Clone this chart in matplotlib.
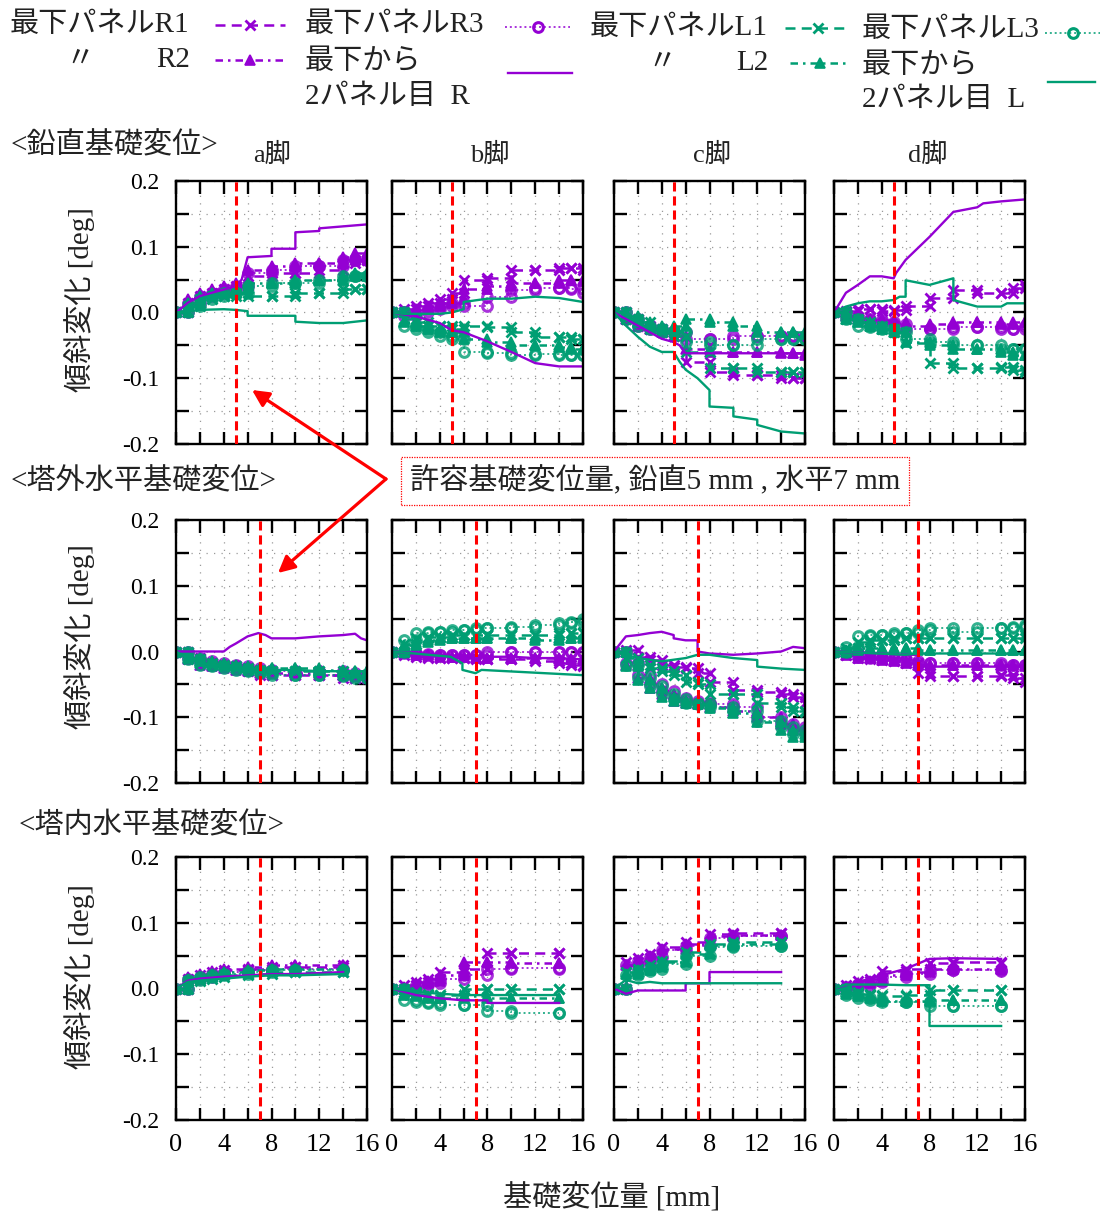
import numpy as np
import matplotlib
matplotlib.use('Agg')
import matplotlib.pyplot as plt
from matplotlib.lines import Line2D

FAM = ['Liberation Serif', 'Noto Sans CJK JP']
plt.rcParams['font.family'] = FAM

# ---------------- data ----------------
LEGS = ['a脚', 'b脚', 'c脚', 'd脚']
ROW_TITLES = ['<鉛直基礎変位>', '<塔外水平基礎変位>', '<塔内水平基礎変位>']
LIMITS = [5, 7, 7]          # allowable displacement (mm) per row

# x grids (mm) of measured steps
X_V = [0, 1, 2, 3, 4, 5, 6, 8, 10, 12, 14, 15, 16]
X_O = [0, 1, 2, 3, 4, 5, 6, 7, 8, 10, 12, 14, 15, 16]
X_I = [0, 1, 2, 3, 4, 6, 8, 10, 14]

# Row 1: vertical displacement  (panels a, b, c, d)
V_R1 = [[0, .015, .025, .03, .035, .04, .055, .06, .06, .065, .075, .08, .08],
        [0, .005, .01, .015, .02, .03, .05, .052, .065, .065, .067, .068, .065],
        [0, -.01, -.02, -.025, -.03, -.035, -.075, -.09, -.095, -.095, -.1, -.1, -.1],
        [0, .003, .005, .005, .003, .004, .01, .022, .034, .03, .03, .037, .042]]
V_R2 = [[0, .02, .03, .035, .04, .045, .065, .07, .075, .075, .085, .09, .085],
        [0, 0, .005, .01, .015, .02, .035, .04, .045, .045, .05, .05, .048],
        [0, -.01, -.02, -.025, -.03, -.035, -.055, -.06, -.06, -.06, -.062, -.062, -.065],
        [0, -.005, -.01, -.01, -.012, -.015, -.02, -.018, -.015, -.015, -.018, -.015, -.015]]
V_R3 = [[0, .015, .025, .03, .035, .04, .06, .065, .07, .07, .08, .08, .08],
        [0, -.005, 0, .005, .01, .015, .01, .024, .034, .037, .037, .035, .03],
        [0, -.01, -.02, -.025, -.03, -.03, -.04, -.04, -.035, -.035, -.035, -.035, -.035],
        [0, -.005, -.01, -.012, -.015, -.018, -.025, -.025, -.022, -.022, -.025, -.025, -.02]]
V_L1 = [[0, .01, .02, .025, .025, .03, .025, .025, .03, .03, .035, .035, .035],
        [0, -.01, -.015, -.02, -.02, -.025, -.02, -.022, -.03, -.037, -.037, -.04, -.04],
        [0, -.01, -.015, -.025, -.03, -.035, -.06, -.085, -.085, -.09, -.09, -.09, -.09],
        [0, -.01, -.015, -.02, -.025, -.03, -.047, -.077, -.085, -.085, -.083, -.088, -.09]]
V_L2 = [[0, .015, .025, .03, .03, .035, .045, .045, .05, .05, .055, .06, .055],
        [0, -.015, -.02, -.025, -.03, -.03, -.04, -.045, -.05, -.05, -.052, -.055, -.055],
        [0, -.005, -.015, -.02, -.025, -.02, -.01, -.015, -.02, -.03, -.03, -.03, -.033],
        [0, -.01, -.015, -.02, -.025, -.03, -.045, -.05, -.055, -.055, -.06, -.065, -.065]]
V_L3 = [[0, .01, .02, .025, .03, .03, .04, .045, .045, .05, .055, .055, .055],
        [0, -.02, -.025, -.03, -.035, -.04, -.06, -.062, -.065, -.063, -.065, -.065, -.065],
        [0, -.01, -.02, -.025, -.03, -.03, -.045, -.05, -.05, -.04, -.04, -.04, -.04],
        [0, -.01, -.02, -.022, -.025, -.03, -.04, -.045, -.05, -.05, -.055, -.055, -.055]]
V_SR_X = [[0, 1, 2, 3, 4, 5, 5.5, 6, 8, 8, 10, 10, 12, 12, 14, 16],
          [0, 2, 4, 5, 6, 8, 10, 12, 14, 16],
          [0, 1, 2, 3, 4, 5, 5.5, 6, 16],
          [0, 1, 2, 3, 4, 5, 5.2, 6, 8, 10, 12, 12.5, 14, 16]]
V_SR_Y = [[0, .015, .025, .03, .035, .04, .05, .084, .086, .097, .097, .122, .124, .128, .131, .134],
          [0, -.006, -.016, -.027, -.03, -.044, -.06, -.077, -.082, -.082],
          [0, -.01, -.02, -.03, -.04, -.045, -.05, -.062, -.062],
          [0, .03, .042, .055, .055, .052, .06, .08, .115, .153, .16, .166, .169, .172]]
V_SL_X = [[0, 1, 2, 4, 5, 6, 6, 10, 10, 12, 14, 16],
          [0, 1, 4, 5, 6, 6, 8, 10, 12, 14, 16],
          [0, 1, 2, 3, 4, 5, 5.5, 6, 7, 8, 8, 10, 10, 12, 12, 14, 16],
          [0, 1, 2, 3, 4, 5, 5.5, 6, 6, 8, 10, 10, 12, 14, 14.5, 16]]
V_SL_Y = [[0, .002, .004, .005, .004, .002, -.005, -.005, -.014, -.016, -.016, -.012],
          [0, -.002, -.002, 0, .005, .016, .021, .021, .024, .022, .016],
          [0, -.02, -.037, -.052, -.06, -.06, -.075, -.087, -.1, -.118, -.143, -.145, -.158, -.163, -.171, -.181, -.184],
          [0, .009, .014, .017, .017, .019, .024, .024, .049, .042, .052, .019, .009, .009, .014, .014]]

# Row 2: horizontal (outside tower)
O_R1 = [[0, -.01, -.018, -.02, -.022, -.025, -.03, -.035, -.035, -.035, -.035, -.04, -.04, -.04],
        [0, -.005, -.008, -.01, -.01, -.01, -.01, -.012, -.012, -.012, -.015, -.018, -.02, -.022],
        [0, .002, -.008, -.013, -.02, -.023, -.025, -.033, -.046, -.059, -.061, -.064, -.069, -.079],
        [0, -.005, -.01, -.012, -.013, -.015, -.018, -.033, -.038, -.038, -.037, -.035, -.04, -.046]]
O_R2 = [[0, -.012, -.02, -.022, -.025, -.028, -.03, -.032, -.032, -.032, -.035, -.035, -.038, -.038],
        [0, -.003, -.005, -.006, -.008, -.008, -.008, -.01, -.01, -.01, -.01, -.012, -.012, -.012],
        [0, -.02, -.04, -.055, -.065, -.075, -.078, -.08, -.085, -.09, -.1, -.11, -.12, -.12],
        [0, -.005, -.01, -.01, -.013, -.015, -.018, -.02, -.02, -.02, -.02, -.02, -.02, -.022]]
O_R3 = [[0, -.01, -.015, -.018, -.02, -.022, -.025, -.028, -.03, -.03, -.03, -.032, -.035, -.035],
        [0, -.002, -.004, -.005, -.005, -.005, -.005, -.005, 0, 0, 0, 0, 0, 0],
        [0, -.018, -.035, -.05, -.06, -.07, -.075, -.078, -.08, -.085, -.1, -.11, -.12, -.115],
        [0, -.003, -.008, -.01, -.01, -.012, -.015, -.018, -.018, -.018, -.018, -.02, -.02, -.02]]
O_L1 = [[0, -.012, -.018, -.02, -.022, -.025, -.028, -.03, -.03, -.03, -.03, -.035, -.035, -.035],
        [0, .012, .02, .022, .022, .025, .025, .025, .025, .025, .025, .028, .028, .03],
        [0, -.01, -.02, -.025, -.03, -.035, -.046, -.05, -.064, -.065, -.079, -.085, -.09, -.092],
        [0, .005, .015, .018, .018, .02, .02, .02, .02, .02, .02, .02, .02, .025]]
O_L2 = [[0, -.01, -.015, -.018, -.02, -.022, -.025, -.025, -.025, -.025, -.028, -.03, -.03, -.03],
        [0, .01, .015, .018, .02, .02, .02, .02, .02, .02, .018, .02, .02, .022],
        [0, -.022, -.043, -.056, -.069, -.076, -.079, -.08, -.086, -.094, -.107, -.119, -.13, -.125],
        [0, .003, .005, .005, .005, .005, .005, .002, .002, .002, .002, .002, .002, .002]]
O_L3 = [[0, -.012, -.02, -.022, -.025, -.028, -.03, -.032, -.035, -.035, -.035, -.038, -.04, -.04],
        [0, .017, .028, .03, .03, .033, .033, .035, .035, .038, .04, .043, .045, .05],
        [0, -.02, -.04, -.052, -.065, -.072, -.078, -.08, -.085, -.09, -.105, -.115, -.125, -.12],
        [0, .007, .023, .025, .025, .028, .028, .033, .035, .03, .035, .035, .038, .04]]
O_SR_X = [[0, 4, 4.5, 5, 6, 6.9, 7.5, 8, 10, 12, 14, 15, 15.5, 16],
          [0, 2, 4, 6, 7, 8, 10, 12, 14, 16],
          [0, 1, 2, 3, 4, 5, 5, 6, 7, 7, 8, 10, 12, 14, 15, 16],
          [0, 6, 7, 7, 16]]
O_SR_Y = [[0, 0, .007, .012, .023, .028, .025, .02, .02, .023, .025, .027, .02, .017],
          [0, -.003, -.005, -.008, -.01, -.008, -.008, -.01, -.01, -.012],
          [0, .023, .025, .028, .03, .025, .02, .017, .017, 0, -.003, -.005, -.003, 0, .007, .005],
          [0, -.005, -.005, -.023, -.023]]
O_SL_X = [[0, 1, 2, 4, 6, 8, 10, 12, 14, 16],
          [0, 4.9, 5.9, 5.9, 7, 7.5, 16],
          [0, 1, 2, 4, 6, 7, 8, 10, 12, 12, 14, 16],
          [0, 6, 7, 16]]
O_SL_Y = [[0, -.01, -.018, -.022, -.025, -.028, -.028, -.03, -.03, -.03],
          [0, -.008, -.018, -.028, -.033, -.028, -.036],
          [0, -.005, -.01, -.015, -.01, -.005, -.005, -.01, -.013, -.023, -.026, -.028],
          [0, -.005, -.003, -.003]]

# Row 3: horizontal (inside tower)
I_R1 = [[0, .015, .02, .025, .028, .03, .033, .033, .035],
        [0, .005, .01, .015, .025, .029, .054, .054, .054],
        [0, .04, .047, .052, .063, .07, .083, .085, .085],
        [0, .006, .011, .014, .026, .029, .039, .041, .039]]
I_R2 = [[0, .018, .022, .026, .03, .032, .035, .035, .035],
        [0, .003, .008, .012, .02, .041, .041, .039, .039],
        [0, .036, .044, .05, .06, .067, .08, .082, .082],
        [0, .004, .008, .012, .02, .025, .03, .03, .029]]
I_R3 = [[0, .015, .018, .022, .025, .028, .03, .03, .03],
        [0, 0, .005, .008, .015, .02, .029, .031, .029],
        [0, .035, .042, .048, .058, .065, .077, .08, .08],
        [0, .003, .006, .01, .018, .022, .028, .028, .027]]
I_L1 = [[0, .012, .015, .018, .02, .022, .025, .025, .025],
        [0, -.005, -.008, -.01, -.01, 0, 0, 0, 0],
        [0, .025, .03, .035, .042, .055, .068, .07, .07],
        [0, -.006, -.008, -.01, -.012, -.01, -.003, -.003, -.003]]
I_L2 = [[0, .015, .018, .022, .025, .028, .03, .03, .03],
        [0, -.01, -.012, -.015, -.015, -.012, -.014, -.014, -.014],
        [0, .022, .028, .033, .04, .052, .066, .068, .068],
        [0, -.009, -.012, -.014, -.019, -.019, -.017, -.017, -.017]]
I_L3 = [[0, .013, .017, .02, .022, .025, .028, .028, .028],
        [0, -.018, -.02, -.022, -.025, -.025, -.034, -.037, -.037],
        [0, .02, .026, .03, .037, .05, .063, .064, .064],
        [0, -.01, -.014, -.017, -.02, -.02, -.027, -.027, -.027]]
I_SR_X = [[0, 1, 2, 4, 6, 8, 10, 14],
          [0, 2, 4, 6, 8, 8, 14],
          [0, 1, 2, 4, 6, 6, 8, 8, 14],
          [0, 1, 2, 4, 6, 8, 10, 14]]
I_SR_Y = [[0, .012, .015, .018, .02, .022, .022, .025],
          [0, -.01, -.015, -.018, -.018, -.022, -.022],
          [0, -.008, -.003, -.003, -.003, .008, .008, .025, .025],
          [0, .005, .01, .02, .03, .045, .046, .045]]
I_SL_X = [[0, 1, 2, 4, 6, 8, 10, 14],
          [0, 2, 4, 6, 8, 14],
          [0, 1, 2, 3, 4, 6, 8, 14],
          [0, 1, 4, 6, 8, 8, 14]]
I_SL_Y = [[0, .01, .012, .015, .018, .02, .02, .022],
          [0, -.005, -.008, -.01, -.01, -.01],
          [0, .013, .008, .01, .008, .008, .008, .008],
          [0, .006, .006, .005, .005, -.057, -.057]]

ROWS = [
    dict(x=X_V, R1=V_R1, R2=V_R2, R3=V_R3, L1=V_L1, L2=V_L2, L3=V_L3,
         SRX=V_SR_X, SRY=V_SR_Y, SLX=V_SL_X, SLY=V_SL_Y),
    dict(x=X_O, R1=O_R1, R2=O_R2, R3=O_R3, L1=O_L1, L2=O_L2, L3=O_L3,
         SRX=O_SR_X, SRY=O_SR_Y, SLX=O_SL_X, SLY=O_SL_Y),
    dict(x=X_I, R1=I_R1, R2=I_R2, R3=I_R3, L1=I_L1, L2=I_L2, L3=I_L3,
         SRX=I_SR_X, SRY=I_SR_Y, SLX=I_SL_X, SLY=I_SL_Y),
]

# ---------------- styles ----------------
PURPLE = '#9400D3'
GREEN = '#009E73'
DASH = (0, (4, 2.5))
DASHDOT = (0, (3, 2, 1, 2))
DOT = (0, (1, 1.5))
STY = {
    'R1': dict(color=PURPLE, ls=DASH, marker='x', ms=7, mew=2.0, lw=1.8),
    'R2': dict(color=PURPLE, ls=DASHDOT, marker='^', ms=7, mew=1.2, lw=1.8),
    'R3': dict(color=PURPLE, ls=DOT, marker='o', ms=7, mew=2.2, mfc='none', lw=1.4, alpha=0.8),
    'L1': dict(color=GREEN, ls=DASH, marker='x', ms=7, mew=2.0, lw=1.8),
    'L2': dict(color=GREEN, ls=DASHDOT, marker='^', ms=7, mew=1.2, lw=1.8),
    'L3': dict(color=GREEN, ls=DOT, marker='o', ms=7, mew=2.2, mfc='none', lw=1.4, alpha=0.8),
    'SR': dict(color=PURPLE, ls='-', lw=1.7),
    'SL': dict(color=GREEN, ls='-', lw=1.7),
}


def stepify(x, y):
    xs, ys = [x[0]], [y[0]]
    for i in range(1, len(x)):
        xs += [x[i], x[i]]
        ys += [y[i - 1], y[i]]
    return xs, ys


W, H = 1108, 1216
fig = plt.figure(figsize=(W / 100, H / 100), dpi=100)
COL_L = [176, 392, 614, 834]
COL_W = 191
ROW_T = [181, 520, 857]
ROW_H = 263


def px_axes(l, t, w, h):
    return fig.add_axes([l / W, 1 - (t + h) / H, w / W, h / H])


for r, row in enumerate(ROWS):
    for c in range(4):
        ax = px_axes(COL_L[c], ROW_T[r], COL_W, ROW_H)
        ax.set_xlim(0, 16)
        ax.set_ylim(-0.2, 0.2)
        ax.set_xticks(np.arange(0, 17, 2))
        ax.set_yticks(np.round(np.arange(-0.2, 0.201, 0.05), 3))
        ax.grid(True, color='#9a9a9a', ls=(0, (1, 5)), lw=0.9)
        ax.tick_params(direction='in', length=9, width=1.7, top=True, right=True,
                       colors='black')
        for s in ax.spines.values():
            s.set_linewidth(1.7)
        if r == 2:
            ax.set_xticklabels(['0', '', '4', '', '8', '', '12', '', '16'],
                               fontsize=19, family=FAM)
            ax.tick_params(axis='x', pad=10)
        else:
            ax.set_xticklabels([])
        if c == 0:
            ax.set_yticklabels(['-0.2', '', '-0.1', '', '0.0', '', '0.1', '', '0.2'],
                               fontsize=17, family=FAM)
            ax.tick_params(axis='y', pad=12)
        else:
            ax.set_yticklabels([])

        ax.plot(*stepify(row['x'], row['R1'][c]), **STY['R1'])
        ax.plot(*stepify(row['x'], row['R2'][c]), **STY['R2'])
        ax.plot(*stepify(row['x'], row['R3'][c]), **STY['R3'])
        ax.plot(*stepify(row['x'], row['L1'][c]), **STY['L1'])
        ax.plot(*stepify(row['x'], row['L2'][c]), **STY['L2'])
        ax.plot(*stepify(row['x'], row['L3'][c]), **STY['L3'])
        ax.plot(row['SRX'][c], row['SRY'][c], **STY['SR'])
        ax.plot(row['SLX'][c], row['SLY'][c], **STY['SL'])
        ax.axvline(LIMITS[r], color='red', ls=(0, (3, 1.6)), lw=2.2, zorder=5)

# ---------------- overlay (texts, legend, annotation) ----------------
ov = fig.add_axes([0, 0, 1, 1], zorder=10)
ov.set_xlim(0, W)
ov.set_ylim(H, 0)
ov.axis('off')
ov.patch.set_visible(False)

TXT = dict(family=FAM, color='#222222')
# section titles
ov.text(10, 146, ROW_TITLES[0], fontsize=21, va='center', ha='left', **TXT)
ov.text(10, 482, ROW_TITLES[1], fontsize=21, va='center', ha='left', **TXT)
ov.text(18, 826, ROW_TITLES[2], fontsize=21, va='center', ha='left', **TXT)
# column titles
for cx, name in zip([272, 490, 712, 928], LEGS):
    ov.text(cx, 155, name, fontsize=19, va='center', ha='center', **TXT)
# y labels
for cy in [300, 637, 977]:
    ov.text(80, cy, '傾斜変化 [deg]', fontsize=21, rotation=90,
            va='center', ha='center', **TXT)
# x label
ov.text(612, 1198, '基礎変位量 [mm]', fontsize=21, va='center', ha='center', **TXT)

# annotation
ov.text(655, 481, '許容基礎変位量, 鉛直5 mm , 水平7 mm', fontsize=21,
        va='center', ha='center', **TXT,
        bbox=dict(boxstyle='square,pad=0.3', fc='white', ec='red', ls=(0, (1, 1)), lw=0.9))
for tgt in [(252, 390), (278, 573)]:
    ov.annotate('', xy=tgt, xytext=(386, 479),
                arrowprops=dict(arrowstyle='-|>,head_length=1.0,head_width=0.5',
                                color='red', lw=2.3, shrinkA=0, shrinkB=0))

# legend
def sample(x0, x1, y, key):
    st = dict(STY[key])
    mk = st.pop('marker', None)
    ms = st.pop('ms', None)
    mew = st.pop('mew', None)
    mfc = st.pop('mfc', None)
    ov.add_line(Line2D([x0, x1], [y, y], **st))
    if mk:
        kw = dict(marker=mk, ms=ms, mew=mew, color=st['color'], ls='none')
        if mfc:
            kw['mfc'] = mfc
        ov.add_line(Line2D([(x0 + x1) / 2], [y], **kw))

LF = 21
ov.text(10, 25, '最下パネルR1', fontsize=LF, va='center', ha='left', **TXT)
ov.text(80, 60, '〃', fontsize=LF, va='center', ha='center', **TXT)
ov.text(190, 60, 'R2', fontsize=LF, va='center', ha='right', **TXT)
sample(215, 285, 25, 'R1')
sample(215, 285, 60, 'R2')
ov.text(305, 25, '最下パネルR3', fontsize=LF, va='center', ha='left', **TXT)
ov.text(305, 62, '最下から', fontsize=LF, va='center', ha='left', **TXT)
ov.text(305, 97, '2パネル目  R', fontsize=LF, va='center', ha='left', **TXT)
sample(505, 570, 27, 'R3')
sample(508, 572, 73, 'SR')
ov.text(590, 28, '最下パネルL1', fontsize=LF, va='center', ha='left', **TXT)
ov.text(662, 63, '〃', fontsize=LF, va='center', ha='center', **TXT)
ov.text(768, 63, 'L2', fontsize=LF, va='center', ha='right', **TXT)
sample(785, 850, 28, 'L1')
sample(790, 850, 63, 'L2')
ov.text(862, 30, '最下パネルL3', fontsize=LF, va='center', ha='left', **TXT)
ov.text(862, 66, '最下から', fontsize=LF, va='center', ha='left', **TXT)
ov.text(862, 100, '2パネル目  L', fontsize=LF, va='center', ha='left', **TXT)
sample(1045, 1100, 33, 'L3')
sample(1048, 1095, 82, 'SL')

fig.savefig('out.png', dpi=100)
